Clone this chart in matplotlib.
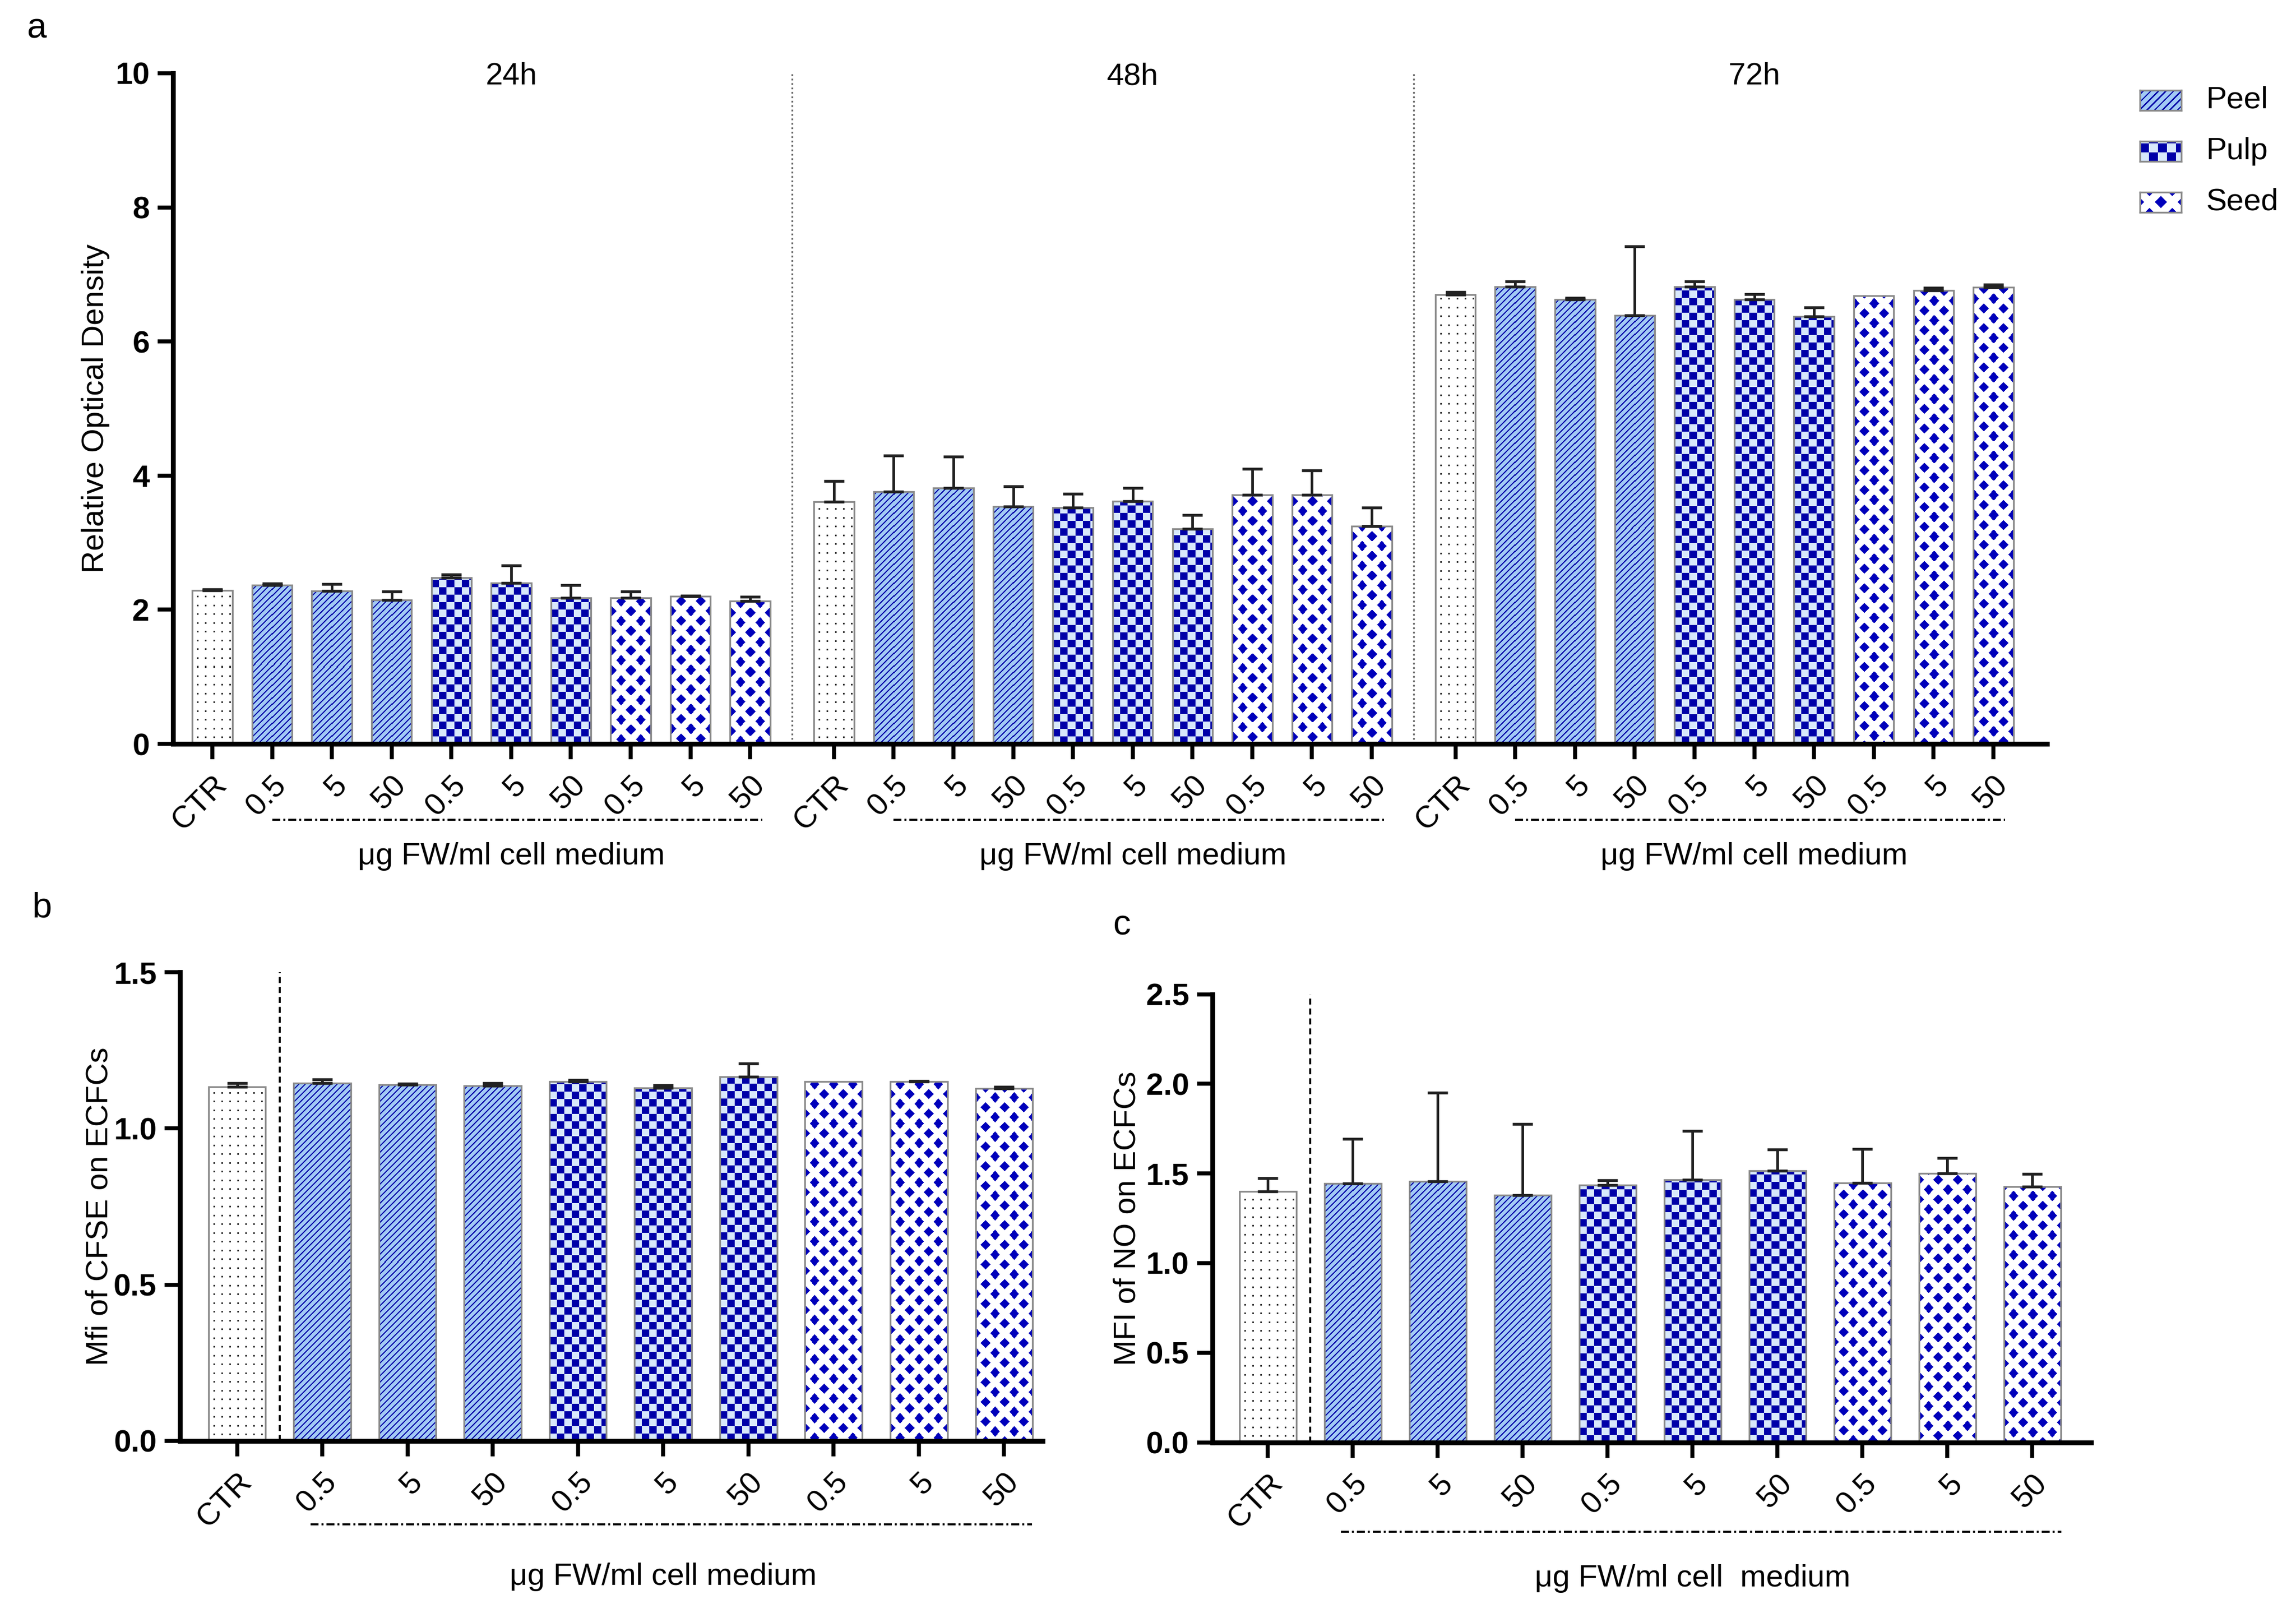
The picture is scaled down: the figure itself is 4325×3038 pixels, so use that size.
import numpy as np
import matplotlib
matplotlib.use('Agg')
import matplotlib.pyplot as plt
import matplotlib.transforms as mtransforms
from matplotlib.colors import to_rgb

plt.rcParams['font.family'] = ['Liberation Sans', 'DejaVu Sans']

# ---- data ----
times = ['24h', '48h', '72h']
tick_labels = ['CTR', '0.5', '5', '50', '0.5', '5', '50', '0.5', '5', '50']
kinds = ['ctr', 'peel', 'peel', 'peel', 'pulp', 'pulp', 'pulp', 'seed', 'seed', 'seed']
legend_names = ['Peel', 'Pulp', 'Seed']

od_24h = [2.29, 2.37, 2.28, 2.15, 2.48, 2.40, 2.18, 2.18, 2.20, 2.13]
od_24h_err = [0.015, 0.02, 0.10, 0.12, 0.05, 0.26, 0.19, 0.09, 0.01, 0.06]
od_48h = [3.61, 3.76, 3.82, 3.54, 3.52, 3.62, 3.21, 3.71, 3.71, 3.25]
od_48h_err = [0.31, 0.54, 0.46, 0.30, 0.21, 0.20, 0.20, 0.39, 0.37, 0.27]
od_72h = [6.70, 6.82, 6.63, 6.39, 6.82, 6.63, 6.37, 6.68, 6.76, 6.81]
od_72h_err = [0.04, 0.08, 0.02, 1.03, 0.08, 0.08, 0.14, 0.0, 0.04, 0.04]

cfse = [1.133, 1.146, 1.141, 1.136, 1.150, 1.130, 1.166, 1.150, 1.150, 1.128]
cfse_err = [0.013, 0.011, 0.002, 0.009, 0.005, 0.008, 0.043, 0.0, 0.002, 0.006]

no = [1.40, 1.443, 1.455, 1.38, 1.435, 1.466, 1.514, 1.448, 1.50, 1.428]
no_err = [0.075, 0.25, 0.495, 0.395, 0.028, 0.273, 0.12, 0.19, 0.086, 0.07]

# ---- style ----
W_PX, H_PX, DPI = 4325, 3038, 300
PEEL_LIGHT, PEEL_DARK = '#a2caf5', '#0808a8'
PULP_LIGHT, PULP_DARK = '#d8e8fb', '#0000a8'
SEED_BLUE = '#0000bb'
FS = 14


def pattern(kind, h, w, s=1.0):
    h, w = max(int(round(h)), 1), max(int(round(w)), 1)
    yy, xx = np.mgrid[0:h, 0:w].astype(float)
    img = np.ones((h, w, 3))
    if kind == 'ctr':
        mask = ((xx + 6) % (15 * s) < 3) & ((yy + 6) % (16.5 * s) < 3)
        img[mask] = to_rgb('#303030')
    elif kind == 'peel':
        img[:] = to_rgb(PEEL_LIGHT)
        mask = ((yy - xx) % (12 * s)) < 3.0 * s
        img[mask] = to_rgb(PEEL_DARK)
    elif kind == 'pulp':
        c = 14 * s
        img[:] = to_rgb(PULP_LIGHT)
        mask = ((xx // c + yy // c) % 2) == 1
        img[mask] = to_rgb(PULP_DARK)
    elif kind == 'seed':
        px, py = 36 * s, 37 * s
        xc, yc = xx - w / 2, yy - h / 2
        u = ((xc + px / 2) % px) - px / 2
        v = ((yc + py / 2) % py) - py / 2
        u2 = (xc % px) - px / 2
        v2 = (yc % py) - py / 2
        r = 0.52
        mask = ((np.abs(u) / (px / 2) + np.abs(v) / (py / 2) < r) |
                (np.abs(u2) / (px / 2) + np.abs(v2) / (py / 2) < r))
        img[mask] = to_rgb(SEED_BLUE)
    return img


def draw_bars(ax, rect, xlim, ylim, xs, vals, errs, width):
    px_x = rect[2] * W_PX / (xlim[1] - xlim[0])
    px_y = rect[3] * H_PX / (ylim[1] - ylim[0])
    for x, v, k in zip(xs, vals, kinds * (len(xs) // len(kinds))):
        img = pattern(k, v * px_y, width * px_x)
        ax.imshow(img, extent=(x - width / 2, x + width / 2, 0, v), origin='lower',
                  aspect='auto', interpolation='nearest', zorder=1)
    ax.bar(xs, vals, width, facecolor='none', edgecolor='#8a8a8a', lw=0.8, zorder=2)
    xs, vals, errs = np.array(xs), np.array(vals), np.array(errs)
    keep = errs > 0
    ax.errorbar(xs[keep], vals[keep], yerr=[np.zeros(keep.sum()), errs[keep]], fmt='none',
                ecolor='#222222', elinewidth=1.2, capsize=4.6, capthick=1.3, zorder=3)
    ax.set_xlim(xlim)
    ax.set_ylim(ylim)


def style_axes(ax, xs, yticks, yfmt, yfamily):
    for sp in ['top', 'right']:
        ax.spines[sp].set_visible(False)
    for sp in ['left', 'bottom']:
        ax.spines[sp].set_linewidth(2.2)
    ax.tick_params(axis='both', width=1.8, length=7, direction='out')
    ax.tick_params(axis='x', pad=5)
    ax.set_xticks(xs)
    ax.set_xticklabels(tick_labels * (len(xs) // len(tick_labels)), rotation=45, ha='right',
                       rotation_mode='anchor', fontsize=FS)
    ax.set_yticks(yticks)
    ax.set_yticklabels([yfmt.format(t) for t in yticks], fontsize=FS, fontweight='bold',
                       family=yfamily)


def dose_line(ax, x0, x1, y):
    tr = mtransforms.blended_transform_factory(ax.transData, ax.transAxes)
    ax.plot([x0, x1], [y, y], transform=tr, color='black', lw=0.9,
            ls=(0, (4, 1.5, 1, 1.5)), clip_on=False)


fig = plt.figure(figsize=(W_PX / DPI, H_PX / DPI), dpi=DPI)

# ---- panel a ----
rect_a = [0.0753, 0.5388, 0.8163, 0.4158]
ax_a = fig.add_axes(rect_a)
xlim_a, ylim_a = (-0.66, 30.7), (0, 10)
gap = 10.4
xs_a, vals_a, errs_a = [], [], []
for g, (v, e) in enumerate([(od_24h, od_24h_err), (od_48h, od_48h_err), (od_72h, od_72h_err)]):
    xs_a += [g * gap + i for i in range(10)]
    vals_a += v
    errs_a += e
draw_bars(ax_a, rect_a, xlim_a, ylim_a, xs_a, vals_a, errs_a, 0.67)
style_axes(ax_a, xs_a, [0, 2, 4, 6, 8, 10], '{:.0f}', ['Liberation Sans', 'DejaVu Sans'])
tr_a = mtransforms.blended_transform_factory(ax_a.transData, ax_a.transAxes)
for g, t in enumerate(times):
    ax_a.text(g * gap + 5.0, 9.95, t, ha='center', va='center', fontsize=FS)
    ax_a.text(g * gap + 5.0, -0.168, 'μg FW/ml cell medium', ha='center', va='center',
              fontsize=FS, transform=tr_a)
    dose_line(ax_a, g * gap + 1.0, g * gap + 9.2, -0.1135)
for sep in [9.7, 9.7 + gap]:
    ax_a.axvline(sep, color='#666666', lw=0.8, ls=(0, (1, 1.5)), zorder=0)
ax_a.text(-0.0414, 0.5, 'Relative Optical Density', rotation=90, ha='center', va='center',
          fontsize=FS, transform=ax_a.transAxes)

# ---- panel b ----
rect_b = [0.0784, 0.1067, 0.3756, 0.2905]
ax_b = fig.add_axes(rect_b)
xs_b = list(range(10))
xlim_b, ylim_b = (-0.67, 9.45), (0, 1.5)
draw_bars(ax_b, rect_b, xlim_b, ylim_b, xs_b, cfse, cfse_err, 0.67)
style_axes(ax_b, xs_b, [0, 0.5, 1.0, 1.5], '{:.1f}', ['Liberation Sans Narrow', 'Liberation Sans'])
ax_b.axvline(0.5, color='black', lw=0.9, ls=(0, (3, 2)), zorder=0)
tr_b = mtransforms.blended_transform_factory(ax_b.transData, ax_b.transAxes)
ax_b.text(5.0, -0.29, 'μg FW/ml cell medium', ha='center', va='center', fontsize=FS, transform=tr_b)
dose_line(ax_b, 0.86, 9.33, -0.178)
ax_b.text(-0.0934, 0.5, 'Mfi of CFSE on ECFCs', rotation=90, ha='center', va='center',
          fontsize=FS, transform=ax_b.transAxes)

# ---- panel c ----
rect_c = [0.528, 0.1058, 0.3827, 0.2778]
ax_c = fig.add_axes(rect_c)
xs_c = list(range(10))
xlim_c, ylim_c = (-0.655, 9.69), (0, 2.5)
draw_bars(ax_c, rect_c, xlim_c, ylim_c, xs_c, no, no_err, 0.67)
style_axes(ax_c, xs_c, [0, 0.5, 1.0, 1.5, 2.0, 2.5], '{:.1f}', ['Liberation Sans Narrow', 'Liberation Sans'])
ax_c.axvline(0.5, color='black', lw=0.9, ls=(0, (3, 2)), zorder=0)
tr_c = mtransforms.blended_transform_factory(ax_c.transData, ax_c.transAxes)
ax_c.text(5.0, -0.304, 'μg FW/ml cell  medium', ha='center', va='center', fontsize=FS, transform=tr_c)
dose_line(ax_c, 0.86, 9.34, -0.199)
ax_c.text(-0.0967, 0.5, 'MFI of NO on ECFCs', rotation=90, ha='center', va='center',
          fontsize=FS, transform=ax_c.transAxes)

# ---- legend ----
for name, k, yc in zip(legend_names, ['peel', 'pulp', 'seed'], [0.9378, 0.9062, 0.8746]):
    lw_f, lh_f = 0.018, 0.0125
    lax = fig.add_axes([0.932, yc - lh_f / 2, lw_f, lh_f])
    lax.imshow(pattern(k, lh_f * H_PX, lw_f * W_PX, 1.2), origin='lower', aspect='auto',
               interpolation='nearest')
    lax.set_xticks([])
    lax.set_yticks([])
    for sp in lax.spines.values():
        sp.set_color('#8a8a8a')
        sp.set_linewidth(0.8)
    fig.text(0.9607, yc, name, ha='left', va='center', fontsize=FS)

# ---- panel letters ----
fig.text(0.0115, 0.982, 'a', fontsize=16, ha='left', va='center')
fig.text(0.014, 0.437, 'b', fontsize=16, ha='left', va='center')
fig.text(0.4847, 0.4262, 'c', fontsize=16, ha='left', va='center')

fig.savefig('out.png', dpi=DPI, facecolor='white')
